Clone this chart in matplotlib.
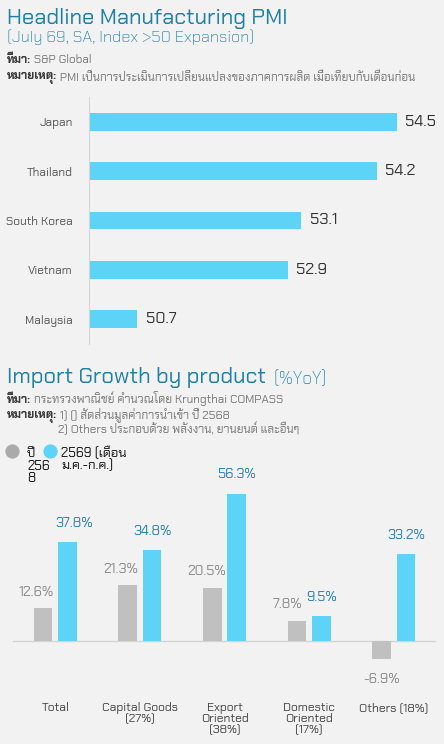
import matplotlib
matplotlib.use("Agg")
import matplotlib.pyplot as plt
import numpy as np

FAM = ["Chakra Petch", "Noto Sans Thai", "DejaVu Sans"]
plt.rcParams["font.family"] = FAM

BG = "#f2f2f2"
TITLE_BLUE = "#1f7fa6"
BAR_BLUE = "#5dd3f7"
BAR_GRAY = "#c0c0c0"

# --- PMI data ---
countries = ["Japan", "Thailand", "South Korea", "Vietnam", "Malaysia"]
pmi = [54.5, 54.2, 53.1, 52.9, 50.7]

# --- import growth data ---
products = ["Total", "Capital Goods\n(27%)", "Export\nOriented\n(38%)",
            "Domestic\nOriented\n(17%)", "Others (18%)"]
growth_2568 = [12.6, 21.3, 20.5, 7.8, -6.9]
growth_2569 = [37.8, 34.8, 56.3, 9.5, 33.2]
# label nudges in points (x) so neighbours don't clash, as in the source
nudge_2568 = [-5, -5, -4, -7, 0]
nudge_2569 = [5, 0, 0, 0, 0]

W, H = 444, 744
fig = plt.figure(figsize=(W / 100, H / 100), dpi=100, facecolor=BG)

# overlay in pixel coords for headers / legend
ov = fig.add_axes([0, 0, 1, 1], zorder=5)
ov.set_xlim(0, W)
ov.set_ylim(H, 0)
ov.axis("off")
ov.patch.set_alpha(0)


def note(x, y, head, body, size=8.4):
    t = ov.text(x, y, head, fontsize=size, fontweight="bold", color="#3a3a3a", va="baseline")
    ov.annotate(" " + body, xy=(1, 0), xycoords=t, fontsize=size, color="#777777",
                va="bottom", ha="left")


ov.text(7, 24, "Headline Manufacturing PMI", fontsize=15.9, color=TITLE_BLUE, va="baseline")
ov.text(7, 42, "(July 69, SA, Index >50 Expansion)", fontsize=11.9, color=TITLE_BLUE,
        va="baseline", fontweight="light")
note(7, 63, "ที่มา:", "S&P Global")
note(7, 79, "หมายเหตุ:", "PMI เป็นการประเมินการเปลี่ยนแปลงของภาคการผลิต เมื่อเทียบกับเดือนก่อน")

t2 = ov.text(7, 383, "Import Growth by product", fontsize=15.9, color=TITLE_BLUE, va="baseline")
ov.annotate("  (%YoY)", xy=(1, 0), xycoords=t2, fontsize=12.5, color=TITLE_BLUE,
            va="bottom", fontweight="light")
note(7, 403, "ที่มา:", "กระทรวงพาณิชย์ คำนวณโดย Krungthai COMPASS")
note(7, 418, "หมายเหตุ:", "1) () สัดส่วนมูลค่าการนำเข้า ปี 2568")
ov.text(58, 433, "2) Others ประกอบด้วย พลังงาน, ยานยนต์ และอื่นๆ", fontsize=8.4,
        color="#777777", va="baseline")

# legend (wrapped like the source)
ov.scatter([12], [451], s=105, color="#aaaaaa", lw=0)
ov.scatter([50], [451], s=105, color=BAR_BLUE, lw=0)
for i, line in enumerate(["ปี", "256", "8"]):
    ov.text(27, 457 + 12.5 * i, line, fontsize=9.5, color="#111111", va="baseline")
for i, line in enumerate(["2569 (เดือน", "ม.ค.-ก.ค.)"]):
    ov.text(61, 457 + 12.5 * i, line, fontsize=9.5, color="#111111", va="baseline")

# --- PMI horizontal bars ---
ax1 = fig.add_axes([89.3 / W, 1 - 344 / H, 342 / W, 247 / H])
ax1.set_facecolor("none")
y = np.arange(len(countries))
ax1.barh(y, np.array(pmi) - 50, left=50, height=0.36, color=BAR_BLUE)
ax1.set_xlim(50, 55)
ax1.set_ylim(len(countries) - 0.5, -0.5)
ax1.set_yticks(y, countries, fontsize=8.5, color="#555555")
ax1.tick_params(axis="y", length=0, pad=12)
ax1.set_xticks([])
for s in ["top", "right", "bottom"]:
    ax1.spines[s].set_visible(False)
ax1.spines["left"].set_color("#d6d6d6")
for yi, v in zip(y, pmi):
    ax1.annotate(f"{v:.1f}", xy=(v, yi), xytext=(6, 0), textcoords="offset points",
                 va="center", ha="left", fontsize=11.5, color="#333333")

# --- import growth bars ---
ax2 = fig.add_axes([13 / W, 1 - 667.5 / H, 423 / W, 183.4 / H])
ax2.set_facecolor("none")
x = np.arange(len(products))
bw = 0.22
off = 0.145
ax2.bar(x - off, growth_2568, width=bw, color=BAR_GRAY, zorder=2)
ax2.bar(x + off, growth_2569, width=bw, color=BAR_BLUE, zorder=2)
ax2.axhline(0, color="#d4d4d4", lw=1, zorder=1)
ax2.set_xlim(-0.5, len(products) - 0.5)
ax2.set_ylim(-10, 60)
ax2.set_yticks([])
ax2.set_xticks(x, products, fontsize=8.7, color="#444444", linespacing=0.9, va="top")
ax2.tick_params(axis="x", length=0, pad=25)
for s in ax2.spines.values():
    s.set_visible(False)

for xi, v, dx in zip(x, growth_2568, nudge_2568):
    ax2.annotate(f"{v:.1f}%", xy=(xi - off, v),
                 xytext=(dx, 7 if v >= 0 else -10), textcoords="offset points",
                 ha="center", va="bottom" if v >= 0 else "top",
                 fontsize=10, color="#8a8a8a")
for xi, v, dx in zip(x, growth_2569, nudge_2569):
    ax2.annotate(f"{v:.1f}%", xy=(xi + off, v), xytext=(dx, 9),
                 textcoords="offset points", ha="center", va="bottom",
                 fontsize=10, color="#2a7fb0")

fig.savefig("out.png", dpi=100, facecolor=BG)
